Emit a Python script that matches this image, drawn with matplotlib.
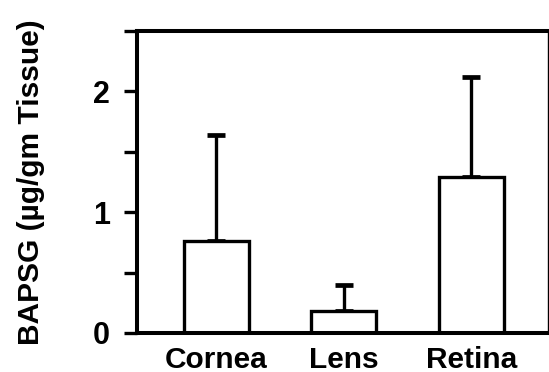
import numpy as np
import matplotlib
matplotlib.use("Agg")
import matplotlib.pyplot as plt
from matplotlib.ticker import MultipleLocator

tissues = ["Cornea", "Lens", "Retina"]
bapsg = [0.76, 0.18, 1.29]
bapsg_sd = [0.88, 0.22, 0.83]

plt.rcParams["font.family"] = ["Liberation Sans", "DejaVu Sans"]
plt.rcParams["font.weight"] = "bold"

fig = plt.figure(figsize=(5.49, 3.72), dpi=100)
ax = fig.add_axes([137 / 549, 39 / 372, 411 / 549, 302 / 372])

x = np.arange(len(tissues))
ax.bar(x, bapsg, width=0.51, color="white", edgecolor="black", linewidth=2.4, zorder=2)
ax.errorbar(x, bapsg, yerr=[np.zeros(len(bapsg)), bapsg_sd], fmt="none", ecolor="black",
            elinewidth=2.4, capsize=6.5, capthick=3.4, zorder=1)

ax.set_xlim(-0.62, 2.6)
ax.set_ylim(0, 2.5)
ax.set_xticks(x)
ax.set_xticklabels(tissues, fontsize=21.5, fontweight="bold")
ax.yaxis.set_major_locator(MultipleLocator(1))
ax.yaxis.set_minor_locator(MultipleLocator(0.5))
ax.tick_params(axis="x", length=0, pad=9)
ax.tick_params(axis="y", which="both", direction="out", length=9.5, width=2.4, pad=10, labelsize=22)
for lab in ax.get_yticklabels():
    lab.set_fontweight("bold")

for side in ["left", "bottom", "top"]:
    ax.spines[side].set_linewidth(2.9)
ax.spines["right"].set_linewidth(1.0)

ax.set_ylabel("BAPSG (µg/gm Tissue)", fontsize=21.5, fontweight="bold")
ax.yaxis.set_label_coords(-0.225, 0.5)

plt.savefig("out.png", dpi=100)
